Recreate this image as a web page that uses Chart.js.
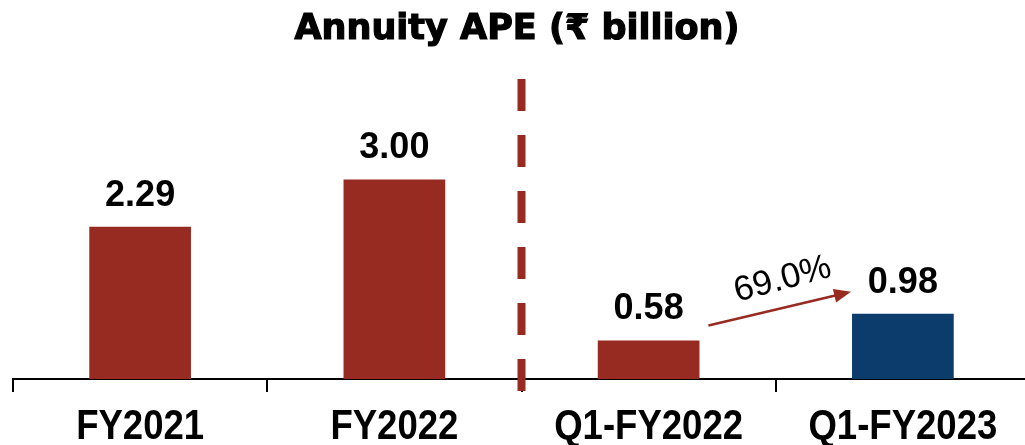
<!DOCTYPE html>
<html>
<head>
<meta charset="utf-8">
<script src="https://cdn.jsdelivr.net/npm/chart.js@4"></script>
<style>
  html, body { margin: 0; padding: 0; background: #fff; overflow: hidden; }
  #wrap { width: 1030px; height: 445px; }
</style>
</head>
<body>
<div id="wrap"><canvas id="apeChart" width="1030" height="445"></canvas></div>
<script>
// data
const categories = ['FY2021', 'FY2022', 'Q1-FY2022', 'Q1-FY2023'];
const apeValues = [2.29, 3.00, 0.58, 0.98];
const valueLabels = ['2.29', '3.00', '0.58', '0.98'];
const growthLabel = '69.0%';
const chartTitle = 'Annuity APE (₹ billion)';

const RED = '#972B22';
const BLUE = '#0B3C6B';

// title, narrow category labels, value labels, divider and growth arrow
const extras = {
  id: 'extras',
  afterDatasetsDraw(chart) {
    const ctx = chart.ctx;
    const bars = chart.getDatasetMeta(0).data;
    const area = chart.chartArea;

    ctx.save();
    ctx.fillStyle = '#000';
    ctx.strokeStyle = '#000';
    ctx.textAlign = 'center';
    ctx.textBaseline = 'middle';
    ctx.font = 'bold 35px "DejaVu Sans"';
    ctx.lineWidth = 1.2;
    ctx.fillText(chartTitle, chart.width / 2 + 2, 30);
    ctx.strokeText(chartTitle, chart.width / 2 + 2, 30);

    ctx.font = 'bold 36px "Liberation Sans"';
    ctx.textBaseline = 'alphabetic';
    bars.forEach((b, i) => {
      ctx.fillText(valueLabels[i], b.x, b.y - 21);
    });

    // category labels, squeezed like a narrow font
    ctx.font = 'bold 42px "Liberation Sans"';
    bars.forEach((b, i) => {
      ctx.save();
      ctx.translate(b.x, area.bottom + 60);
      ctx.scale(0.87, 1);
      ctx.fillText(categories[i], 0, 0);
      ctx.restore();
    });

    // dashed divider between annual and quarterly
    const xDiv = (bars[1].x + bars[2].x) / 2;
    ctx.strokeStyle = RED;
    ctx.lineWidth = 8;
    ctx.setLineDash([32, 24]);
    ctx.beginPath();
    ctx.moveTo(xDiv, area.top);
    ctx.lineTo(xDiv, area.bottom + 13);
    ctx.stroke();
    ctx.setLineDash([]);

    // growth arrow
    const b3 = bars[2], b4 = bars[3];
    const x1 = b3.x + b3.width / 2 + 9, y1 = b3.y - 15;
    const x2 = b4.x - b4.width / 2 - 1, y2 = b4.y - 22;
    const ang = Math.atan2(y2 - y1, x2 - x1);
    ctx.strokeStyle = RED;
    ctx.fillStyle = RED;
    ctx.lineWidth = 2.5;
    ctx.beginPath();
    ctx.moveTo(x1, y1);
    ctx.lineTo(x2 - 14 * Math.cos(ang), y2 - 14 * Math.sin(ang));
    ctx.stroke();
    ctx.beginPath();
    ctx.moveTo(x2, y2);
    ctx.lineTo(x2 - 17 * Math.cos(ang) + 7 * Math.sin(ang), y2 - 17 * Math.sin(ang) - 7 * Math.cos(ang));
    ctx.lineTo(x2 - 17 * Math.cos(ang) - 7 * Math.sin(ang), y2 - 17 * Math.sin(ang) + 7 * Math.cos(ang));
    ctx.closePath();
    ctx.fill();

    ctx.translate((x1 + x2) / 2 + 3, (y1 + y2) / 2 - 29);
    ctx.rotate(ang - 0.03);
    ctx.fillStyle = '#000';
    ctx.font = '35px "Liberation Sans"';
    ctx.textBaseline = 'middle';
    ctx.fillText(growthLabel, 0, 0);
    ctx.restore();
  }
};

new Chart(document.getElementById('apeChart'), {
  type: 'bar',
  data: {
    labels: categories,
    datasets: [{
      data: apeValues,
      backgroundColor: [RED, RED, RED, BLUE],
      borderWidth: 0,
      barPercentage: 0.4,
      categoryPercentage: 1
    }]
  },
  options: {
    responsive: false,
    animation: false,
    layout: { padding: { top: 79, left: 13, right: 0, bottom: 0 } },
    plugins: {
      legend: { display: false },
      tooltip: { enabled: false }
    },
    scales: {
      x: {
        offset: true,
        grid: {
          offset: true,
          drawOnChartArea: false,
          color: '#000',
          lineWidth: 2,
          tickLength: 13
        },
        border: { display: true, color: '#000', width: 2 },
        // labels are drawn by the plugin so they can be narrowed
        ticks: { display: false },
        afterFit(scale) { scale.height = 66; }
      },
      y: {
        display: false,
        min: 0,
        max: 4.51
      }
    }
  },
  plugins: [extras]
});
</script>
</body>
</html>
